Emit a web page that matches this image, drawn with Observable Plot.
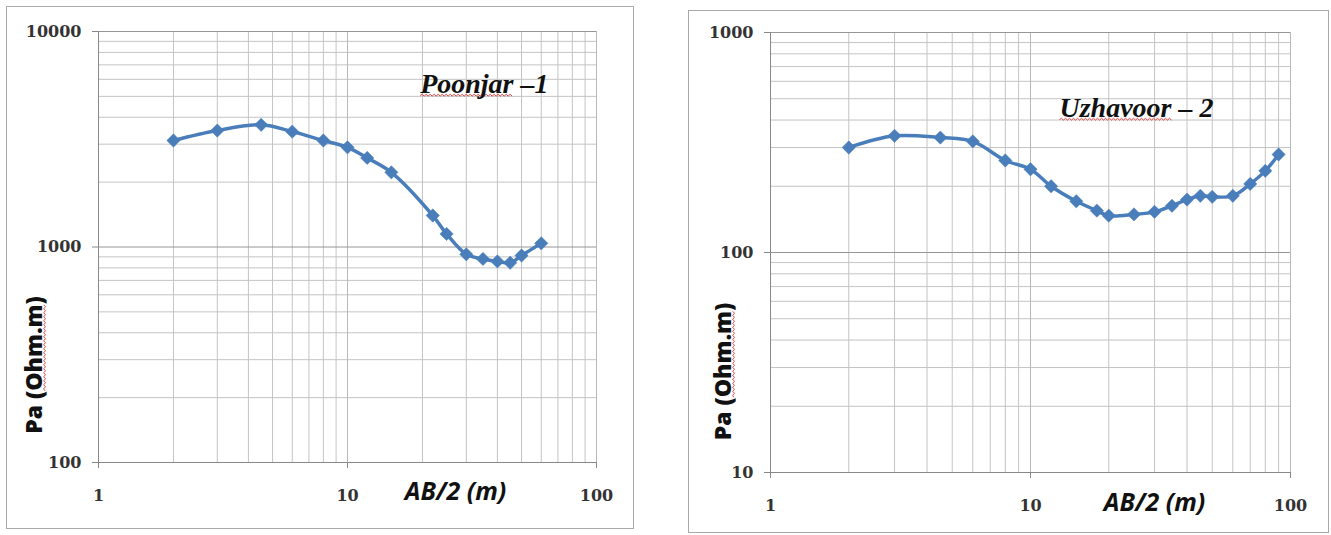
<!DOCTYPE html>
<html><head><meta charset="utf-8">
<script src="https://cdn.jsdelivr.net/npm/d3@7"></script>
<script src="https://cdn.jsdelivr.net/npm/@observablehq/plot@0.6"></script>
<style>
body{margin:0;background:#fff;width:1331px;height:535px;position:relative;overflow:hidden;}
.box{position:absolute;border:1px solid #a9a9a9;background:#fff;}
.box svg{display:block;}
</style></head><body>
<div id="c1" class="box" style="left:6px;top:6px;"></div>
<div id="c2" class="box" style="left:688px;top:10px;"></div>
<script>
// ---- Poonjar-1 ----
const poonjarAB  = [2, 3, 4.5, 6, 8, 10, 12, 15, 22, 25, 30, 35, 40, 45, 50, 60];
const poonjarRho = [3120, 3470, 3690, 3430, 3120, 2900, 2590, 2220, 1400, 1150, 925, 880, 857, 845, 913, 1040];
const poonjarYTicks = [100, 1000, 10000];
const poonjarYMinor = [200,300,400,500,600,700,800,900,2000,3000,4000,5000,6000,7000,8000,9000];

// ---- Uzhavoor-2 ----
const uzhavoorAB  = [2, 3, 4.5, 6, 8, 10, 12, 15, 18, 20, 25, 30, 35, 40, 45, 50, 60, 70, 80, 90];
const uzhavoorRho = [300, 339, 333, 320, 262, 239, 200, 171, 155, 147, 149, 153, 163, 174, 181, 179, 181, 205, 235, 279];
const uzhavoorYTicks = [10, 100, 1000];
const uzhavoorYMinor = [20,30,40,50,60,70,80,90,200,300,400,500,600,700,800,900];

// ---- shared x axis ----
const xTicks = [1, 10, 100];
const xMinor = [2,3,4,5,6,7,8,9,20,30,40,50,60,70,80,90];

const xLabel = "AB/2 (m)";
const yLabel = "Pa (Ohm.m)";

const BLUE = "#4a7ebb";

// red spell-check squiggle under chars [from, to) of a text element
function squiggle(textEl, from, to) {
  const n = textEl.getNumberOfChars();
  if (!n || to > n) return;
  const s = textEl.getStartPositionOfChar(from);
  const e = textEl.getEndPositionOfChar(to - 1);
  const y0 = s.y + 3;
  let d = `M${s.x},${y0}`;
  let up = true;
  for (let x = s.x + 2; x <= e.x; x += 2) { d += `L${x},${y0 + (up ? -1.2 : 0.6)}`; up = !up; }
  const p = document.createElementNS("http://www.w3.org/2000/svg", "path");
  p.setAttribute("d", d);
  p.setAttribute("fill", "none");
  p.setAttribute("stroke", "#e03030");
  p.setAttribute("stroke-width", "0.9");
  const tr = textEl.getAttribute("transform");
  if (tr) p.setAttribute("transform", tr);
  textEl.parentNode.insertBefore(p, textEl);
}

function makeChart(el, cfg) {
  const data = cfg.ab.map((a, i) => ({ab: a, rho: cfg.rho[i]}));
  const plot = Plot.plot({
    width: cfg.width, height: cfg.height,
    marginLeft: cfg.ml, marginRight: cfg.mr, marginTop: cfg.mt, marginBottom: cfg.mb,
    style: {background: "#fff", overflow: "visible", color: "#222"},
    x: {type: "log", domain: [xTicks[0], xTicks[xTicks.length - 1]], axis: null},
    y: {type: "log", domain: [cfg.yTicks[0], cfg.yTicks[cfg.yTicks.length - 1]], axis: null},
    marks: [
      Plot.gridY(cfg.yMinor, {stroke: "#c4c4c4", strokeOpacity: 1}),
      Plot.gridX(xMinor, {stroke: "#c4c4c4", strokeOpacity: 1}),
      Plot.gridX(xTicks.slice(1), {stroke: "#b8b8b8", strokeOpacity: 1}),
      Plot.gridY(cfg.yTicks.slice(1), {stroke: "#969696", strokeOpacity: 1}),
      Plot.ruleX(xTicks.slice(0, 1), {stroke: "#888", strokeWidth: 1}),
      Plot.ruleY(cfg.yTicks.slice(0, 1), {stroke: "#888", strokeWidth: 1}),
      Plot.axisX(xTicks, {tickSize: 6, tickPadding: 21, tickFormat: d => String(d), label: null,
        stroke: "#888", fontSize: 16, fontFamily: "DejaVu Serif", fontWeight: "bold", fill: "#333"}),
      Plot.axisY(cfg.yTicks, {tickSize: 6, tickPadding: 11, tickFormat: d => String(d), label: null,
        stroke: "#888", fontSize: 16, fontFamily: "DejaVu Serif", fontWeight: "bold", fill: "#333"}),
      Plot.line(data, {x: "ab", y: "rho", curve: "catmull-rom", stroke: BLUE, strokeWidth: 3.5}),
      Plot.dot(data, {x: "ab", y: "rho", symbol: "diamond2", r: 6, fill: BLUE, stroke: BLUE, strokeWidth: 0.5}),
      Plot.text([cfg.title], {frameAnchor: "top-right", dx: cfg.titleDx, dy: cfg.titleDy,
        textAnchor: "end", lineAnchor: "bottom", fontSize: 28, fontFamily: "Liberation Serif",
        fontWeight: "bold", fontStyle: "italic", fill: "#111", className: "ttl"}),
      Plot.text([xLabel], {frameAnchor: "bottom", dx: cfg.xlDx, dy: cfg.xlDy,
        textAnchor: "middle", lineAnchor: "bottom", fontSize: 25, fontFamily: "Open Sans",
        fontWeight: "bold", fontStyle: "italic", fill: "#111"}),
      Plot.text([yLabel], {frameAnchor: "left", dx: cfg.ylDx, dy: cfg.ylDy, rotate: -90,
        textAnchor: "middle", lineAnchor: "middle", fontSize: 23, fontFamily: "Open Sans",
        fontWeight: "800", fill: "#111", className: "ylab"})
    ]
  });
  el.appendChild(plot);
  const t = plot.querySelector("g.ttl text");
  if (t) squiggle(t, 0, cfg.squigLen);
  const yl = plot.querySelector("g.ylab text");
  if (yl) { const a = yLabel.indexOf("Ohm.m"); squiggle(yl, a, a + 5); }
}

makeChart(document.getElementById("c1"), {
  ab: poonjarAB, rho: poonjarRho, yTicks: poonjarYTicks, yMinor: poonjarYMinor,
  width: 626, height: 521, ml: 91, mr: 37, mt: 24, mb: 66,
  title: "Poonjar \u20131", squigLen: 7, titleDx: -48, titleDy: 61,
  xlDx: 108, xlDy: 37, ylDx: -64, ylDy: 118
});
makeChart(document.getElementById("c2"), {
  ab: uzhavoorAB, rho: uzhavoorRho, yTicks: uzhavoorYTicks, yMinor: uzhavoorYMinor,
  width: 639, height: 521, ml: 81, mr: 38, mt: 21, mb: 60,
  title: "Uzhavoor \u2013 2", squigLen: 8, titleDx: -77, titleDy: 84,
  xlDx: 124, xlDy: 38, ylDx: -47, ylDy: 119
});
</script>
</body></html>
